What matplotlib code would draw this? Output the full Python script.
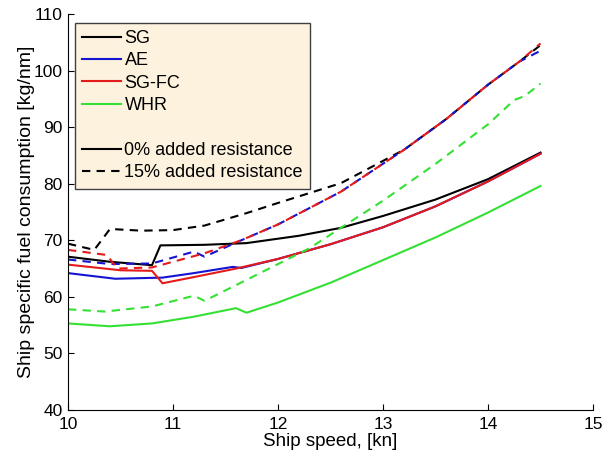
import numpy as np
import matplotlib
matplotlib.use('Agg')
import matplotlib.pyplot as plt
from matplotlib.lines import Line2D

plt.rcParams['font.family'] = ['Liberation Sans', 'DejaVu Sans']

# 0% added resistance
sg_x = [10, 10.4, 10.8, 10.88, 11.3, 11.7, 12.2, 12.6, 13.0, 13.5, 14.0, 14.5]
sg_y = [67.1, 66.2, 65.6, 69.1, 69.2, 69.5, 70.8, 72.2, 74.3, 77.2, 80.8, 85.5]
ae_x = [10, 10.45, 10.9, 11.2, 11.57, 11.65, 12.0, 12.5, 13.0, 13.5, 14.0, 14.5]
ae_y = [64.2, 63.2, 63.4, 64.2, 65.3, 65.1, 66.7, 69.3, 72.3, 76.0, 80.4, 85.3]
fc_x = [10, 10.5, 10.8, 10.9, 11.2, 11.6, 12.0, 12.5, 13.0, 13.5, 14.0, 14.5]
fc_y = [65.7, 64.7, 64.6, 62.4, 63.5, 65.0, 66.7, 69.3, 72.3, 76.0, 80.4, 85.3]
whr_x = [10, 10.4, 10.8, 11.2, 11.6, 11.7, 12.0, 12.5, 13.0, 13.5, 14.0, 14.5]
whr_y = [55.3, 54.8, 55.3, 56.5, 58.0, 57.2, 59.0, 62.5, 66.5, 70.5, 74.9, 79.6]

# 15% added resistance
sg15_x = [10, 10.25, 10.4, 10.7, 11.0, 11.3, 11.7, 12.0, 12.6, 13.2, 13.6, 14.0, 14.3, 14.5]
sg15_y = [69.4, 68.3, 72.0, 71.7, 71.8, 72.6, 74.8, 76.6, 80.1, 86.0, 91.4, 97.5, 101.6, 104.5]
ae15_x = [10, 10.4, 10.8, 11.2, 11.3, 11.65, 12.0, 12.6, 13.2, 13.6, 14.0, 14.3, 14.5]
ae15_y = [66.6, 65.8, 65.9, 68.0, 67.1, 70.0, 72.8, 78.6, 86.0, 91.4, 97.5, 101.6, 103.5]
fc15_x = [10, 10.37, 10.47, 10.8, 11.3, 11.65, 12.0, 12.6, 13.2, 13.6, 14.0, 14.3, 14.5]
fc15_y = [68.3, 67.4, 65.0, 65.2, 67.7, 70.0, 72.8, 78.6, 86.0, 91.4, 97.5, 101.6, 104.8]
whr15_x = [10, 10.35, 10.8, 11.2, 11.3, 11.7, 12.0, 12.3, 12.6, 13.0, 13.5, 14.0, 14.25, 14.35, 14.5]
whr15_y = [57.8, 57.4, 58.3, 60.2, 59.3, 63.0, 65.8, 68.6, 72.2, 77.0, 83.5, 90.5, 94.8, 95.5, 97.7]

names = ['SG', 'AE', 'SG-FC', 'WHR']
colors = ['black', '#1414d2', '#e31b1b', '#35e035']
solid = [(sg_x, sg_y), (ae_x, ae_y), (fc_x, fc_y), (whr_x, whr_y)]
dashed = [(sg15_x, sg15_y), (ae15_x, ae15_y), (fc15_x, fc15_y), (whr15_x, whr15_y)]

fig = plt.figure(figsize=(6.03, 4.58), dpi=100)
ax = fig.add_axes([68/603, 48/458, 525/603, 396/458])

lw = 1.5
dash = (0, (4, 3))
for (x, y), c in zip(solid, colors):
    ax.plot(x, y, color=c, lw=lw)
for (x, y), c in zip(dashed, colors):
    ax.plot(x, y, color=c, lw=lw, linestyle=dash)

ax.set_xlim(10, 15)
ax.set_ylim(40, 110)
ax.set_xticks(np.arange(10, 16, 1))
ax.set_yticks(np.arange(40, 111, 10))
ax.tick_params(direction='in', labelsize=12.5, length=4, width=0.8)
ax.tick_params(axis='x', pad=5)
ax.tick_params(axis='y', pad=4)
for s in ['top', 'right']:
    ax.spines[s].set_visible(False)
ax.set_xlabel('Ship speed, [kn]', fontsize=13.5, labelpad=1)
ax.set_ylabel('Ship specific fuel consumption [kg/nm]', fontsize=14, labelpad=-1)

handles = [Line2D([], [], color=c, lw=lw) for c in colors]
handles.append(Line2D([], [], color='none'))
handles.append(Line2D([], [], color='black', lw=lw))
handles.append(Line2D([], [], color='black', lw=lw, linestyle=dash))
labels = names + [' ', '0% added resistance', '15% added resistance']
leg = ax.legend(handles, labels, loc='upper left', bbox_to_anchor=(0.013, 0.978),
                borderaxespad=0, fontsize=13, handlelength=2.15, handletextpad=0.2,
                labelspacing=0.3, borderpad=0.4, fancybox=False, framealpha=1,
                facecolor='#fcf2de', edgecolor='#404040')
leg.get_frame().set_linewidth(1.0)

fig.savefig('out.png', dpi=100)
